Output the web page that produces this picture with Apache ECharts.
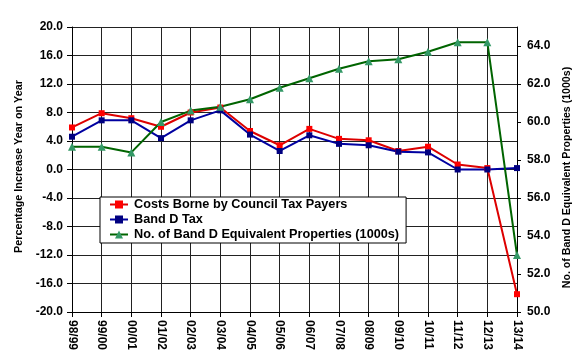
<!DOCTYPE html>
<html>
<head>
<meta charset="utf-8">
<script src="https://cdn.jsdelivr.net/npm/echarts@6/dist/echarts.min.js"></script>
<style>html,body{margin:0;padding:0;background:#fff}#c{width:586px;height:360px}</style>
</head>
<body>
<div id="c"></div>
<script>
const categories = ['98/99','99/00','00/01','01/02','02/03','03/04','04/05','05/06','06/07','07/08','08/09','09/10','10/11','11/12','12/13','13/14'];
const costsBorne = [5.9, 7.9, 7.2, 6.0, 8.0, 8.7, 5.4, 3.4, 5.7, 4.3, 4.1, 2.6, 3.2, 0.7, 0.2, -17.5];
const bandDTax = [4.6, 6.9, 6.9, 4.4, 6.9, 8.3, 4.9, 2.6, 4.8, 3.6, 3.4, 2.5, 2.4, 0.0, 0.0, 0.2];
const properties = [58.7, 58.7, 58.4, 60.0, 60.6, 60.8, 61.2, 61.8, 62.3, 62.8, 63.2, 63.3, 63.7, 64.2, 64.2, 53.0];
const leftTicks = {min: -20, max: 20, interval: 4};
const rightTicks = {min: 50, max: 65, interval: 2};

const FONT = '"Liberation Sans", Arial, sans-serif';
const chart = echarts.init(document.getElementById('c'), null, {renderer: 'canvas'});
chart.setOption({
  animation: false,
  backgroundColor: '#fff',
  grid: {left: 72, right: 69, top: 27, bottom: 48, containLabel: false},
  legend: {
    orient: 'vertical', left: 100, top: 197,
    backgroundColor: '#fff', borderColor: '#000', borderWidth: 1,
    padding: [1, 7, 2, 9],
    itemGap: 2, itemWidth: 18, itemHeight: 10,
    textStyle: {fontFamily: FONT, fontWeight: 'bold', fontSize: 12.7, color: '#000', padding: [0, 0, 0, 1]},
    data: ['Costs Borne by Council Tax Payers', 'Band D Tax', 'No. of Band D Equivalent Properties (1000s)']
  },
  xAxis: {
    type: 'category', data: categories, boundaryGap: false,
    axisLine: {onZero: false, lineStyle: {color: '#000', width: 1}},
    axisTick: {show: true, length: 5, lineStyle: {color: '#000'}},
    axisLabel: {rotate: -90, margin: 8, interval: 0, fontFamily: FONT, fontWeight: 'bold', fontSize: 12, color: '#000'},
    splitLine: {show: true, interval: 0, lineStyle: {color: '#222', width: 1}}
  },
  yAxis: [{
    type: 'value', min: leftTicks.min, max: leftTicks.max, interval: leftTicks.interval,
    name: 'Percentage Increase Year on Year', nameLocation: 'middle', nameGap: 46, nameRotate: 90,
    nameTextStyle: {fontFamily: FONT, fontWeight: 'bold', fontSize: 10.8, color: '#000', padding: [0, 0, 0, 6]},
    axisLine: {show: true, lineStyle: {color: '#000'}},
    axisTick: {show: true, length: 5, lineStyle: {color: '#000'}},
    axisLabel: {margin: 9, formatter: v => v.toFixed(1), fontFamily: FONT, fontWeight: 'bold', fontSize: 12, color: '#000'},
    splitLine: {show: true, lineStyle: {color: '#222', width: 1}}
  }, {
    type: 'value', min: rightTicks.min, max: rightTicks.max, interval: rightTicks.interval,
    position: 'right',
    name: 'No. of Band D Equivalent Properties (1000s)', nameLocation: 'middle', nameGap: 44, nameRotate: 90,
    nameTextStyle: {fontFamily: FONT, fontWeight: 'bold', fontSize: 10.6, color: '#000', padding: [0, 16, 0, 0]},
    axisLine: {show: true, lineStyle: {color: '#000'}},
    axisTick: {show: true, length: 4, lineStyle: {color: '#000'}},
    axisLabel: {margin: 10, showMaxLabel: false, formatter: v => v.toFixed(1), fontFamily: FONT, fontWeight: 'bold', fontSize: 12, color: '#000'},
    splitLine: {show: false}
  }],
  series: [{
    name: 'Costs Borne by Council Tax Payers', type: 'line', yAxisIndex: 0, data: costsBorne,
    symbol: 'rect', symbolSize: 6,
    lineStyle: {color: '#dd0000', width: 2}, itemStyle: {color: '#ff0000'}
  }, {
    name: 'Band D Tax', type: 'line', yAxisIndex: 0, data: bandDTax,
    symbol: 'rect', symbolSize: 6,
    lineStyle: {color: '#0000a0', width: 2}, itemStyle: {color: '#000080'}
  }, {
    name: 'No. of Band D Equivalent Properties (1000s)', type: 'line', yAxisIndex: 1, data: properties,
    symbol: 'triangle', symbolSize: 8,
    lineStyle: {color: '#006400', width: 2}, itemStyle: {color: '#339966'}
  }]
});
</script>
</body>
</html>
